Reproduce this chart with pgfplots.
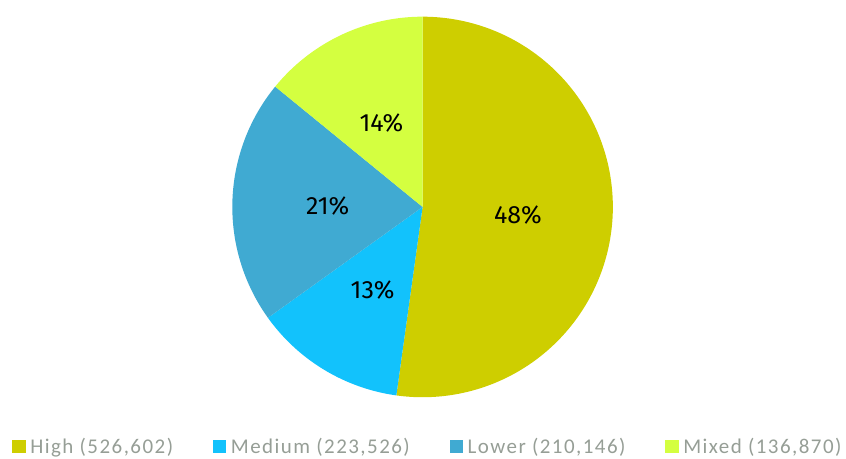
\documentclass[border=0pt]{standalone}
\usepackage{pgfplots}
\pgfplotsset{compat=1.18}
\usepackage{fontspec}
\setmainfont{Carlito}
\newfontfamily\legfont[LetterSpace=7]{Carlito}
\newfontfamily\labelfont{Fira Sans}
\definecolor{cHigh}{RGB}{206,206,0}
\definecolor{cMed}{RGB}{18,194,252}
\definecolor{cLow}{RGB}{64,170,210}
\definecolor{cMix}{RGB}{212,255,64}
\definecolor{legtext}{RGB}{150,158,150}
% shares of the circle as drawn (percent)
\def\sHigh{52.2}\def\sMed{12.9}\def\sLow{20.8}\def\sMix{14.1}
\pgfmathsetmacro\aA{90}
\pgfmathsetmacro\aB{\aA-3.6*\sHigh}
\pgfmathsetmacro\aC{\aB-3.6*\sMed}
\pgfmathsetmacro\aD{\aC-3.6*\sLow}
\pgfmathsetmacro\aE{\aD-3.6*\sMix}
\def\cx{423.3}\def\cy{251.7}\def\R{190.6}
\begin{document}
\begin{tikzpicture}
\begin{axis}[scale only axis, width=846pt, height=459pt,
  xmin=0, xmax=846, ymin=0, ymax=459, hide axis, clip=false,
  legend columns=4,
  legend image code/.code={\fill[#1,draw=none] (0pt,-6.7pt) rectangle (13.4pt,6.7pt);},
  legend style={at={(rel axis cs:0.0145,0.0251)}, anchor=west, draw=none, fill=none,
    inner xsep=0pt, inner ysep=0pt,
    font=\legfont\fontsize{21}{24}\selectfont, text=legtext,
    nodes={inner xsep=4.5pt, inner ysep=0pt},
    /tikz/every even column/.append style={column sep=35.5pt}},
]
\addplot[draw=none, forget plot] coordinates {(0,0) (846,459)};
\addplot[fill=cHigh, draw=none, domain=\aB:\aA, samples=150, variable=\t]
  ({\cx+\R*cos(\t)},{\cy+\R*sin(\t)}) -- (\cx,\cy) -- cycle;
\addlegendentry{High (526,602)}
\addplot[fill=cMed, draw=none, domain=\aC:\aB, samples=60, variable=\t]
  ({\cx+\R*cos(\t)},{\cy+\R*sin(\t)}) -- (\cx,\cy) -- cycle;
\addlegendentry{Medium (223,526)}
\addplot[fill=cLow, draw=none, domain=\aD:\aC, samples=80, variable=\t]
  ({\cx+\R*cos(\t)},{\cy+\R*sin(\t)}) -- (\cx,\cy) -- cycle;
\addlegendentry{Lower (210,146)}
\addplot[fill=cMix, draw=none, domain=\aE:\aD, samples=60, variable=\t]
  ({\cx+\R*cos(\t)},{\cy+\R*sin(\t)}) -- (\cx,\cy) -- cycle;
\addlegendentry{Mixed (136,870)}
\begin{scope}[every node/.style={font=\labelfont\fontsize{25}{30}\selectfont, text=black}]
\node at (axis cs:518.7,243.5) {48\%};
\node at (axis cs:373.3,168.5) {13\%};
\node at (axis cs:328.2,252.8) {21\%};
\node at (axis cs:382,335.3) {14\%};
\end{scope}
\end{axis}
\end{tikzpicture}
\end{document}
